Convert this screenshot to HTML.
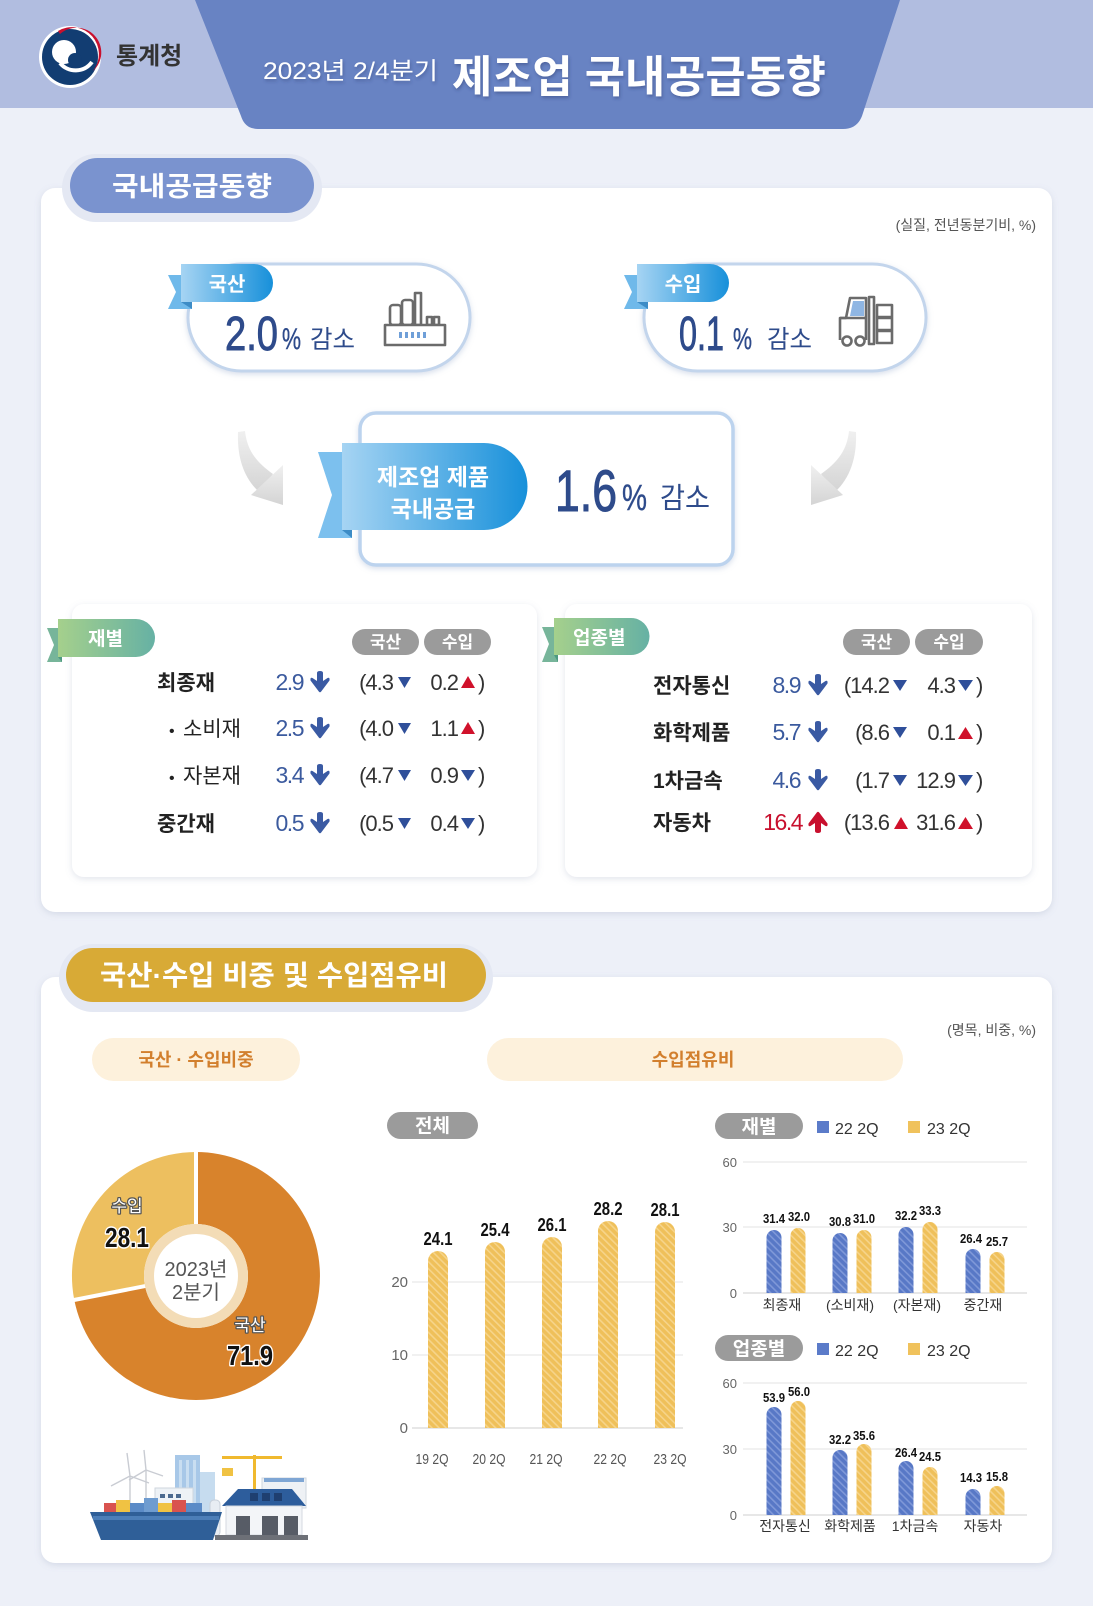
<!DOCTYPE html>
<html><head><meta charset="utf-8">
<style>
html,body{margin:0;padding:0;background:#edf0f8;}
svg{display:block}
text{font-family:"Liberation Sans","Noto Sans CJK KR",sans-serif;}
</style></head><body>
<svg width="1093" height="1606" viewBox="0 0 1093 1606" xmlns="http://www.w3.org/2000/svg">
<defs>
 <filter id="sh" x="-5%" y="-8%" width="110%" height="120%"><feDropShadow dx="0" dy="2" stdDeviation="3.5" flood-color="#7c88a8" flood-opacity="0.22"/></filter>
 <filter id="sh2" x="-10%" y="-10%" width="120%" height="130%"><feDropShadow dx="0" dy="2" stdDeviation="3" flood-color="#8fa3c8" flood-opacity="0.35"/></filter>
 <filter id="ts" x="-5%" y="-10%" width="110%" height="130%"><feDropShadow dx="1" dy="2" stdDeviation="1.5" flood-color="#2a3d72" flood-opacity="0.45"/></filter>
 <linearGradient id="blueTag" x1="0" x2="1" y1="0" y2="0"><stop offset="0" stop-color="#a6d4f3"/><stop offset="1" stop-color="#1790da"/></linearGradient>
 <linearGradient id="greenTag" x1="0" x2="1" y1="0" y2="0"><stop offset="0" stop-color="#a5d08c"/><stop offset="1" stop-color="#66b1a4"/></linearGradient>
 <linearGradient id="garr" x1="0" x2="0" y1="0" y2="1"><stop offset="0" stop-color="#f0f0f0"/><stop offset="1" stop-color="#d4d4d4"/></linearGradient>
 <pattern id="hy" width="5" height="5" patternUnits="userSpaceOnUse" patternTransform="rotate(-45)"><rect width="5" height="5" fill="#efc05a"/><rect width="1.6" height="5" fill="#f6d48a"/></pattern>
 <pattern id="hb" width="5" height="5" patternUnits="userSpaceOnUse" patternTransform="rotate(-45)"><rect width="5" height="5" fill="#5878c6"/><rect width="1.6" height="5" fill="#7f98d8"/></pattern>
 <g id="dn"><path d="M8,2 Q8,0 11,0 Q14,0 14,2 L14,10 L18.5,7 Q21,6 20.5,9.5 L12.2,20.5 Q11,22 9.8,20.5 L1.5,9.5 Q1,6 3.5,7 L8,10 Z"/></g>
</defs>

<rect x="0" y="0" width="1093" height="1606" fill="#edf0f8"/>
<!-- header -->
<rect x="0" y="0" width="1093" height="108" fill="#b1bde0"/>
<path d="M195,0 L900,0 L862,116 Q857,129 843,129 L258,129 Q245,129 241,116 Z" fill="#6883c3"/>
<circle cx="70" cy="57" r="31" fill="#ffffff"/>
<circle cx="70" cy="57" r="28" fill="#123d72"/>
<path d="M58,31 A27,27 0 0 1 93,71 A24,24 0 0 0 60,34 Z" fill="#c8102e"/>
<circle cx="64" cy="52" r="12" fill="#fff"/>
<circle cx="75" cy="60" r="7" fill="#123d72"/>
<path d="M60,63 C68,73 84,73 92,62" fill="none" stroke="#fff" stroke-width="4"/>
<text x="116" y="64" font-size="24" font-weight="bold" fill="#333">통계청</text>
<g filter="url(#ts)">
<text x="263" y="79" font-size="24" fill="#fff" textLength="175" lengthAdjust="spacingAndGlyphs">2023년 2/4분기</text>
<text x="452" y="92" font-size="44" font-weight="bold" fill="#fff" textLength="374" lengthAdjust="spacingAndGlyphs">제조업 국내공급동향</text>
</g>

<!-- section 1 -->
<rect x="41" y="188" width="1011" height="724" rx="14" fill="#fff" filter="url(#sh)"/>
<rect x="62" y="154" width="260" height="68" rx="34" fill="#e4e8f3"/>
<rect x="70" y="158" width="244" height="55" rx="27.5" fill="#7a93cf"/>
<text x="112" y="196" font-size="27" font-weight="bold" fill="#fff" textLength="160" lengthAdjust="spacingAndGlyphs">국내공급동향</text>
<text x="1036" y="230" font-size="14" fill="#555" text-anchor="end">(실질, 전년동분기비, %)</text>

<!-- 국산 pill -->
<rect x="188" y="264" width="282" height="107" rx="53.5" fill="#fff" stroke="#c3d5ec" stroke-width="3" filter="url(#sh2)"/>
<polygon points="168,275 192,275 192,309 168,309 176,292" fill="#6fb9ea"/>
<path d="M181,264 H254 A19,19 0 0 1 254,302 H181 Z" fill="url(#blueTag)"/>
<polygon points="181,302 192,302 192,309" fill="#3d8cc6"/>
<text x="227" y="291" font-size="20" font-weight="bold" fill="#fff" text-anchor="middle">국산</text>
<g fill="#2e4b8b" stroke="#2e4b8b" stroke-width="0.9">
<text x="225" y="350" font-size="48" textLength="53" lengthAdjust="spacingAndGlyphs">2.0</text>
<text x="282" y="349" font-size="30" textLength="19" lengthAdjust="spacingAndGlyphs" stroke-width="0.4">%</text>
</g>
<text x="310" y="348" font-size="25" fill="#2e4b8b" textLength="45" lengthAdjust="spacingAndGlyphs">감소</text>
<g fill="#fff" stroke="#6b6b6b" stroke-width="2.6" stroke-linejoin="round">
 <rect x="390" y="305" width="11" height="20" rx="3"/>
 <rect x="402" y="300" width="11" height="25" rx="3"/>
 <rect x="415" y="293" width="6" height="32"/>
 <rect x="427" y="317" width="5" height="8"/>
 <rect x="434" y="317" width="5" height="8"/>
 <rect x="385" y="325" width="60" height="20"/>
</g>
<g fill="#6f9fd8"><rect x="399" y="332" width="3" height="6"/><rect x="405" y="332" width="3" height="6"/><rect x="411" y="332" width="3" height="6"/><rect x="417" y="332" width="3" height="6"/><rect x="423" y="332" width="3" height="6"/></g>

<!-- 수입 pill -->
<rect x="644" y="264" width="282" height="107" rx="53.5" fill="#fff" stroke="#c3d5ec" stroke-width="3" filter="url(#sh2)"/>
<polygon points="624,275 648,275 648,309 624,309 632,292" fill="#6fb9ea"/>
<path d="M637,264 H710 A19,19 0 0 1 710,302 H637 Z" fill="url(#blueTag)"/>
<polygon points="637,302 648,302 648,309" fill="#3d8cc6"/>
<text x="683" y="291" font-size="20" font-weight="bold" fill="#fff" text-anchor="middle">수입</text>
<g fill="#2e4b8b" stroke="#2e4b8b" stroke-width="0.9">
<text x="679" y="350" font-size="48" textLength="45" lengthAdjust="spacingAndGlyphs">0.1</text>
<text x="733" y="349" font-size="30" textLength="19" lengthAdjust="spacingAndGlyphs" stroke-width="0.4">%</text>
</g>
<text x="767" y="348" font-size="25" fill="#2e4b8b" textLength="45" lengthAdjust="spacingAndGlyphs">감소</text>
<g fill="#fff" stroke="#6b6b6b" stroke-width="2.6" stroke-linejoin="round">
 <path d="M840,340 V318 L846,318 L850,298 L866,298 V340"/>
 <line x1="840" y1="318" x2="866" y2="318"/>
 <rect x="869" y="297" width="5" height="47"/>
 <rect x="877" y="305" width="15" height="12"/>
 <rect x="877" y="318" width="15" height="12"/>
 <rect x="877" y="331" width="15" height="12"/>
 <circle cx="847" cy="341" r="4.5"/>
 <circle cx="860" cy="341" r="4.5"/>
</g>
<polygon points="853,301 864,301 864,316 850,316" fill="#8fb6e3"/>

<!-- arrows -->
<g fill="url(#garr)">
 <path d="M238,432 C237,458 244,478 259,492 L273,474 C256,462 247,450 245,431 Z"/>
 <polygon points="283,465 283,505 251,495"/>
 <g transform="translate(1094,0) scale(-1,1)">
  <path d="M238,432 C237,458 244,478 259,492 L273,474 C256,462 247,450 245,431 Z"/>
  <polygon points="283,465 283,505 251,495"/>
 </g>
</g>

<!-- center box -->
<rect x="360" y="413" width="373" height="152" rx="16" fill="#fff" stroke="#bcd3ee" stroke-width="3.5" filter="url(#sh2)"/>
<polygon points="318,452 352,452 352,538 318,538 332,495" fill="#7cc0ee"/>
<path d="M342,443 H484 A43.5,43.5 0 0 1 484,530 H342 Z" fill="url(#blueTag)"/>
<polygon points="342,530 352,530 352,538" fill="#3d8cc6"/>
<text x="433" y="485" font-size="23" font-weight="bold" fill="#fff" text-anchor="middle">제조업 제품</text>
<text x="433" y="517" font-size="23" font-weight="bold" fill="#fff" text-anchor="middle">국내공급</text>
<g fill="#2e4b8b" stroke="#2e4b8b" stroke-width="1">
<text x="555" y="511" font-size="58" textLength="62" lengthAdjust="spacingAndGlyphs">1.6</text>
<text x="622" y="510" font-size="36" textLength="25" lengthAdjust="spacingAndGlyphs" stroke-width="0.4">%</text>
</g>
<text x="660" y="508" font-size="29" fill="#2e4b8b" textLength="50" lengthAdjust="spacingAndGlyphs">감소</text>

<!-- sub cards -->
<rect x="72" y="604" width="465" height="273" rx="12" fill="#fff" filter="url(#sh)"/>
<rect x="565" y="604" width="467" height="273" rx="12" fill="#fff" filter="url(#sh)"/>

<!-- 재별 tag -->
<polygon points="47,628 62,628 62,662 47,662 54,645" fill="#77b59a"/>
<path d="M58,619 H136 A19,19 0 0 1 136,657 H58 Z" fill="url(#greenTag)"/>
<polygon points="58,657 62,657 62,662" fill="#4d9a80"/>
<text x="88" y="645" font-size="19" font-weight="bold" fill="#fff">재별</text>
<!-- 업종별 tag -->
<polygon points="542,627 558,627 558,662 542,662 549,644" fill="#77b59a"/>
<path d="M554,618 H631 A18.5,18.5 0 0 1 631,655 H554 Z" fill="url(#greenTag)"/>
<polygon points="554,655 558,655 558,662" fill="#4d9a80"/>
<text x="573" y="644" font-size="19" font-weight="bold" fill="#fff">업종별</text>

<!-- column pills -->
<g fill="#9b9b9b">
 <rect x="352" y="629" width="67" height="26" rx="13"/><rect x="424" y="629" width="67" height="26" rx="13"/>
 <rect x="843" y="629" width="67" height="26" rx="13"/><rect x="915" y="629" width="68" height="26" rx="13"/>
</g>
<g font-size="17" font-weight="bold" fill="#fff" text-anchor="middle">
 <text x="385.5" y="648">국산</text><text x="457.5" y="648">수입</text>
 <text x="876.5" y="648">국산</text><text x="949" y="648">수입</text>
</g>

<!-- left rows -->
<g font-size="21" fill="#222">
 <text x="157" y="690" font-weight="bold">최종재</text>
 <text x="169" y="736" font-size="16">•</text><text x="183" y="736">소비재</text>
 <text x="169" y="783" font-size="16">•</text><text x="183" y="783">자본재</text>
 <text x="157" y="831" font-weight="bold">중간재</text>
</g>
<g font-size="23" fill="#3b5a9e" text-anchor="end" letter-spacing="-1.5">
 <text x="303" y="690">2.9</text><text x="303" y="736">2.5</text><text x="303" y="783">3.4</text><text x="303" y="831">0.5</text>
</g>
<g fill="#3a5aa3">
 <use href="#dn" x="309" y="671"/><use href="#dn" x="309" y="717"/><use href="#dn" x="309" y="764"/><use href="#dn" x="309" y="812"/>
</g>
<g font-size="22" fill="#333" letter-spacing="-1">
 <g text-anchor="end">
  <text x="393" y="690">(4.3</text><text x="458" y="690">0.2</text>
  <text x="393" y="736">(4.0</text><text x="458" y="736">1.1</text>
  <text x="393" y="783">(4.7</text><text x="458" y="783">0.9</text>
  <text x="393" y="831">(0.5</text><text x="458" y="831">0.4</text>
 </g>
 <text x="478" y="690">)</text><text x="478" y="736">)</text><text x="478" y="783">)</text><text x="478" y="831">)</text>
</g>
<g fill="#2f4f9a">
 <polygon points="398,677 411,677 404.5,688"/><polygon points="398,723 411,723 404.5,734"/><polygon points="398,770 411,770 404.5,781"/><polygon points="398,818 411,818 404.5,829"/>
 <polygon points="461,770 475,770 468,781"/><polygon points="461,818 475,818 468,829"/>
</g>
<g fill="#d0112b">
 <polygon points="461,688 475,688 468,676"/><polygon points="461,734 475,734 468,722"/>
</g>

<!-- right rows -->
<g font-size="21" font-weight="bold" fill="#222">
 <text x="653" y="693">전자통신</text><text x="653" y="740">화학제품</text><text x="653" y="788">1차금속</text><text x="653" y="830">자동차</text>
</g>
<g font-size="23" text-anchor="end" letter-spacing="-1.5">
 <text x="800" y="693" fill="#3b5a9e">8.9</text><text x="800" y="740" fill="#3b5a9e">5.7</text><text x="800" y="788" fill="#3b5a9e">4.6</text><text x="802" y="830" fill="#c8102e">16.4</text>
</g>
<g fill="#3a5aa3"><use href="#dn" x="807" y="674"/><use href="#dn" x="807" y="721"/><use href="#dn" x="807" y="769"/></g>
<g fill="#c8102e" transform="translate(1614,1644) scale(-1,-1)"><use href="#dn" x="785" y="811"/></g>
<g font-size="22" fill="#333" letter-spacing="-1">
 <g text-anchor="end">
  <text x="889" y="693">(14.2</text><text x="955" y="693">4.3</text>
  <text x="889" y="740">(8.6</text><text x="955" y="740">0.1</text>
  <text x="889" y="788">(1.7</text><text x="955" y="788">12.9</text>
  <text x="889" y="830">(13.6</text><text x="955" y="830">31.6</text>
 </g>
 <text x="976" y="693">)</text><text x="976" y="740">)</text><text x="976" y="788">)</text><text x="976" y="830">)</text>
</g>
<g fill="#2f4f9a">
 <polygon points="893,680 907,680 900,691"/><polygon points="958,680 973,680 965.5,691"/>
 <polygon points="893,727 907,727 900,738"/>
 <polygon points="893,775 907,775 900,786"/><polygon points="958,775 973,775 965.5,786"/>
</g>
<g fill="#d0112b">
 <polygon points="958,739 973,739 965.5,727"/>
 <polygon points="894,829 908,829 901,817"/><polygon points="958,829 973,829 965.5,817"/>
</g>

<!-- section 2 -->
<rect x="41" y="977" width="1011" height="586" rx="14" fill="#fff" filter="url(#sh)"/>
<rect x="59" y="944" width="434" height="68" rx="34" fill="#e4e8f3"/>
<rect x="66" y="948" width="420" height="54" rx="27" fill="#d8aa36"/>
<text x="100" y="985" font-size="28" font-weight="bold" fill="#fff" textLength="348" lengthAdjust="spacingAndGlyphs">국산·수입 비중 및 수입점유비</text>
<text x="1036" y="1035" font-size="14" fill="#555" text-anchor="end">(명목, 비중, %)</text>
<rect x="92" y="1038" width="208" height="43" rx="21.5" fill="#fdf1dc"/>
<rect x="487" y="1038" width="416" height="43" rx="21.5" fill="#fdf1dc"/>
<text x="196" y="1066" font-size="18" font-weight="bold" fill="#d27f2d" text-anchor="middle">국산 · 수입비중</text>
<text x="693" y="1066" font-size="18" font-weight="bold" fill="#d27f2d" text-anchor="middle">수입점유비</text>

<!-- donut -->
<path d="M196,1152 A124,124 0 1 1 74.3,1300 L145,1286.1 A52,52 0 1 0 196,1224 Z" fill="#d8832c"/>
<path d="M196,1152 A124,124 0 0 0 74.3,1300 L145,1286.1 A52,52 0 0 1 196,1224 Z" fill="#edbf5f"/>
<line x1="196" y1="1150" x2="196" y2="1226" stroke="#fff" stroke-width="4"/>
<line x1="72" y1="1300.4" x2="147" y2="1285.7" stroke="#fff" stroke-width="4"/>
<circle cx="196" cy="1276" r="52" fill="#f3dcb6"/>
<circle cx="196" cy="1276" r="42" fill="#fff"/>
<text x="196" y="1276" font-size="20" fill="#555" text-anchor="middle">2023년</text>
<text x="196" y="1299" font-size="20" fill="#555" text-anchor="middle">2분기</text>
<g paint-order="stroke" stroke-linejoin="round">
 <text x="127" y="1212" font-size="17" fill="#fff" stroke="#555" stroke-width="2.5" text-anchor="middle">수입</text>
 <text x="127" y="1247" font-size="28" font-weight="bold" fill="#111" stroke="#fff" stroke-width="3" text-anchor="middle" textLength="44" lengthAdjust="spacingAndGlyphs">28.1</text>
 <text x="250" y="1331" font-size="17" fill="#fff" stroke="#555" stroke-width="2.5" text-anchor="middle">국산</text>
 <text x="250" y="1365" font-size="28" font-weight="bold" fill="#111" stroke="#fff" stroke-width="3" text-anchor="middle" textLength="46" lengthAdjust="spacingAndGlyphs">71.9</text>
</g>

<!-- city illustration -->
<g>
 <g stroke="#c9ccd3" stroke-width="1.4" fill="none">
  <line x1="130" y1="1520" x2="130" y2="1476"/><path d="M130,1476 L127,1453 M130,1476 L149,1483 M130,1476 L111,1486"/>
  <line x1="146" y1="1515" x2="146" y2="1470"/><path d="M146,1470 L144,1450 M146,1470 L163,1476 M146,1470 L129,1480"/>
 </g>
 <rect x="175" y="1455" width="25" height="70" fill="#a8c8e8"/>
 <g fill="#c9def1"><rect x="179" y="1460" width="3" height="60"/><rect x="186" y="1460" width="3" height="60"/><rect x="193" y="1460" width="3" height="60"/></g>
 <rect x="200" y="1472" width="15" height="53" fill="#c6dcef"/>
 <rect x="155" y="1488" width="38" height="30" fill="#eef2f6" stroke="#cfd6de"/>
 <g fill="#4c6a8f"><rect x="160" y="1494" width="5" height="4"/><rect x="168" y="1494" width="5" height="4"/><rect x="176" y="1494" width="5" height="4"/><rect x="160" y="1503" width="5" height="4"/><rect x="168" y="1503" width="5" height="4"/><rect x="176" y="1503" width="5" height="4"/></g>
 <rect x="253" y="1455" width="3" height="45" fill="#f0b92f"/>
 <rect x="222" y="1456" width="60" height="3" fill="#f0b92f"/>
 <rect x="222" y="1468" width="11" height="8" fill="#f0c243"/>
 <rect x="262" y="1478" width="44" height="30" fill="#eef1f5" stroke="#cfd6de"/>
 <rect x="264" y="1478" width="40" height="4" fill="#7fa6d4"/>
 <polygon points="222,1506 238,1489 292,1489 306,1506" fill="#2d5d9c"/>
 <g fill="#1f3f70"><rect x="250" y="1493" width="8" height="8"/><rect x="262" y="1493" width="8" height="8"/><rect x="274" y="1493" width="8" height="8"/></g>
 <rect x="226" y="1506" width="76" height="29" fill="#f3f5f8" stroke="#d4d9e0"/>
 <g fill="#575c66"><rect x="236" y="1516" width="14" height="19"/><rect x="262" y="1516" width="16" height="19"/><rect x="284" y="1516" width="14" height="19"/></g>
 <rect x="210" y="1500" width="10" height="36" rx="4" fill="#e8edf3" stroke="#c8d0da"/>
 <rect x="215" y="1535" width="93" height="5" fill="#6d7077"/>
 <g><rect x="104" y="1503" width="12" height="9" fill="#d9534f"/><rect x="116" y="1500" width="14" height="12" fill="#f0c243"/><rect x="130" y="1503" width="14" height="9" fill="#5b8bc7"/><rect x="144" y="1498" width="14" height="14" fill="#6f9cd0"/><rect x="158" y="1503" width="14" height="9" fill="#f0c243"/><rect x="172" y="1500" width="14" height="12" fill="#d9534f"/><rect x="186" y="1503" width="16" height="9" fill="#5b8bc7"/></g>
 <polygon points="90,1512 222,1512 213,1540 101,1540" fill="#2f5f98"/>
 <rect x="93" y="1516" width="126" height="4" fill="#4c7eb8"/>
</g>

<!-- 전체 chart -->
<rect x="387" y="1112" width="91" height="27" rx="13.5" fill="#9b9b9b"/>
<text x="432.5" y="1132" font-size="19" font-weight="bold" fill="#fff" text-anchor="middle">전체</text>
<g stroke="#e3e3e3" stroke-width="1"><line x1="412" y1="1282" x2="683" y2="1282"/><line x1="412" y1="1355" x2="683" y2="1355"/></g>
<line x1="412" y1="1428" x2="683" y2="1428" stroke="#cfcfcf" stroke-width="1"/>
<g font-size="15" fill="#666" text-anchor="end"><text x="408" y="1287">20</text><text x="408" y="1360">10</text><text x="408" y="1433">0</text></g>
<g fill="url(#hy)">
 <path d="M428,1428 V1261 A10,10 0 0 1 448,1261 V1428 Z"/>
 <path d="M485,1428 V1252 A10,10 0 0 1 505,1252 V1428 Z"/>
 <path d="M542,1428 V1247 A10,10 0 0 1 562,1247 V1428 Z"/>
 <path d="M598,1428 V1231 A10,10 0 0 1 618,1231 V1428 Z"/>
 <path d="M655,1428 V1232 A10,10 0 0 1 675,1232 V1428 Z"/>
</g>
<g font-size="18" font-weight="bold" fill="#111" text-anchor="middle">
 <text x="438" y="1245" textLength="29" lengthAdjust="spacingAndGlyphs">24.1</text>
 <text x="495" y="1236" textLength="29" lengthAdjust="spacingAndGlyphs">25.4</text>
 <text x="552" y="1231" textLength="29" lengthAdjust="spacingAndGlyphs">26.1</text>
 <text x="608" y="1215" textLength="29" lengthAdjust="spacingAndGlyphs">28.2</text>
 <text x="665" y="1216" textLength="29" lengthAdjust="spacingAndGlyphs">28.1</text>
</g>
<g font-size="15" fill="#555" text-anchor="middle">
 <text x="432" y="1464" textLength="33" lengthAdjust="spacingAndGlyphs">19 2Q</text>
 <text x="489" y="1464" textLength="33" lengthAdjust="spacingAndGlyphs">20 2Q</text>
 <text x="546" y="1464" textLength="33" lengthAdjust="spacingAndGlyphs">21 2Q</text>
 <text x="610" y="1464" textLength="33" lengthAdjust="spacingAndGlyphs">22 2Q</text>
 <text x="670" y="1464" textLength="33" lengthAdjust="spacingAndGlyphs">23 2Q</text>
</g>

<!-- 재별 chart -->
<rect x="715" y="1113" width="88" height="26" rx="13" fill="#9b9b9b"/>
<text x="759" y="1133" font-size="19" font-weight="bold" fill="#fff" text-anchor="middle">재별</text>
<rect x="817" y="1121" width="12" height="12" fill="#5b7bc9"/><text x="835" y="1134" font-size="16" fill="#333">22 2Q</text>
<rect x="908" y="1121" width="12" height="12" fill="#f0c25c"/><text x="927" y="1134" font-size="16" fill="#333">23 2Q</text>
<g stroke="#e3e3e3" stroke-width="1"><line x1="743" y1="1162" x2="1027" y2="1162"/><line x1="743" y1="1227" x2="1027" y2="1227"/></g>
<line x1="743" y1="1293" x2="1027" y2="1293" stroke="#cfcfcf"/>
<g font-size="13" fill="#666" text-anchor="end"><text x="737" y="1167">60</text><text x="737" y="1232">30</text><text x="737" y="1298">0</text></g>
<g fill="url(#hb)">
 <path d="M766.5,1293 V1237.5 A7.5,7.5 0 0 1 781.5,1237.5 V1293 Z"/>
 <path d="M832.5,1293 V1240.5 A7.5,7.5 0 0 1 847.5,1240.5 V1293 Z"/>
 <path d="M898.5,1293 V1234.5 A7.5,7.5 0 0 1 913.5,1234.5 V1293 Z"/>
 <path d="M965.5,1293 V1256.5 A7.5,7.5 0 0 1 980.5,1256.5 V1293 Z"/>
</g>
<g fill="url(#hy)">
 <path d="M790.5,1293 V1235.5 A7.5,7.5 0 0 1 805.5,1235.5 V1293 Z"/>
 <path d="M856.5,1293 V1237.5 A7.5,7.5 0 0 1 871.5,1237.5 V1293 Z"/>
 <path d="M922.5,1293 V1229.5 A7.5,7.5 0 0 1 937.5,1229.5 V1293 Z"/>
 <path d="M989.5,1293 V1259.5 A7.5,7.5 0 0 1 1004.5,1259.5 V1293 Z"/>
</g>
<g font-size="13" font-weight="bold" fill="#111" text-anchor="middle">
 <text x="774" y="1223" textLength="22" lengthAdjust="spacingAndGlyphs">31.4</text>
 <text x="799" y="1221" textLength="22" lengthAdjust="spacingAndGlyphs">32.0</text>
 <text x="840" y="1226" textLength="22" lengthAdjust="spacingAndGlyphs">30.8</text>
 <text x="864" y="1223" textLength="22" lengthAdjust="spacingAndGlyphs">31.0</text>
 <text x="906" y="1220" textLength="22" lengthAdjust="spacingAndGlyphs">32.2</text>
 <text x="930" y="1215" textLength="22" lengthAdjust="spacingAndGlyphs">33.3</text>
 <text x="971" y="1243" textLength="22" lengthAdjust="spacingAndGlyphs">26.4</text>
 <text x="997" y="1246" textLength="22" lengthAdjust="spacingAndGlyphs">25.7</text>
</g>
<g font-size="14" fill="#333" text-anchor="middle">
 <text x="782" y="1310">최종재</text><text x="850" y="1310">(소비재)</text><text x="917" y="1310">(자본재)</text><text x="983" y="1310">중간재</text>
</g>

<!-- 업종별 chart -->
<rect x="715" y="1335" width="88" height="26" rx="13" fill="#9b9b9b"/>
<text x="759" y="1355" font-size="19" font-weight="bold" fill="#fff" text-anchor="middle">업종별</text>
<rect x="817" y="1343" width="12" height="12" fill="#5b7bc9"/><text x="835" y="1356" font-size="16" fill="#333">22 2Q</text>
<rect x="908" y="1343" width="12" height="12" fill="#f0c25c"/><text x="927" y="1356" font-size="16" fill="#333">23 2Q</text>
<g stroke="#e3e3e3" stroke-width="1"><line x1="743" y1="1383" x2="1027" y2="1383"/><line x1="743" y1="1449" x2="1027" y2="1449"/></g>
<line x1="743" y1="1515" x2="1027" y2="1515" stroke="#cfcfcf"/>
<g font-size="13" fill="#666" text-anchor="end"><text x="737" y="1388">60</text><text x="737" y="1454">30</text><text x="737" y="1520">0</text></g>
<g fill="url(#hb)">
 <path d="M766.5,1515 V1414.5 A7.5,7.5 0 0 1 781.5,1414.5 V1515 Z"/>
 <path d="M832.5,1515 V1457.5 A7.5,7.5 0 0 1 847.5,1457.5 V1515 Z"/>
 <path d="M898.5,1515 V1468.5 A7.5,7.5 0 0 1 913.5,1468.5 V1515 Z"/>
 <path d="M965.5,1515 V1496.5 A7.5,7.5 0 0 1 980.5,1496.5 V1515 Z"/>
</g>
<g fill="url(#hy)">
 <path d="M790.5,1515 V1408.5 A7.5,7.5 0 0 1 805.5,1408.5 V1515 Z"/>
 <path d="M856.5,1515 V1451.5 A7.5,7.5 0 0 1 871.5,1451.5 V1515 Z"/>
 <path d="M922.5,1515 V1474.5 A7.5,7.5 0 0 1 937.5,1474.5 V1515 Z"/>
 <path d="M989.5,1515 V1493.5 A7.5,7.5 0 0 1 1004.5,1493.5 V1515 Z"/>
</g>
<g font-size="13" font-weight="bold" fill="#111" text-anchor="middle">
 <text x="774" y="1402" textLength="22" lengthAdjust="spacingAndGlyphs">53.9</text>
 <text x="799" y="1396" textLength="22" lengthAdjust="spacingAndGlyphs">56.0</text>
 <text x="840" y="1444" textLength="22" lengthAdjust="spacingAndGlyphs">32.2</text>
 <text x="864" y="1440" textLength="22" lengthAdjust="spacingAndGlyphs">35.6</text>
 <text x="906" y="1457" textLength="22" lengthAdjust="spacingAndGlyphs">26.4</text>
 <text x="930" y="1461" textLength="22" lengthAdjust="spacingAndGlyphs">24.5</text>
 <text x="971" y="1482" textLength="22" lengthAdjust="spacingAndGlyphs">14.3</text>
 <text x="997" y="1481" textLength="22" lengthAdjust="spacingAndGlyphs">15.8</text>
</g>
<g font-size="14" fill="#333" text-anchor="middle">
 <text x="785" y="1531">전자통신</text><text x="850" y="1531">화학제품</text><text x="915" y="1531">1차금속</text><text x="983" y="1531">자동차</text>
</g>
</svg>
</body></html>
